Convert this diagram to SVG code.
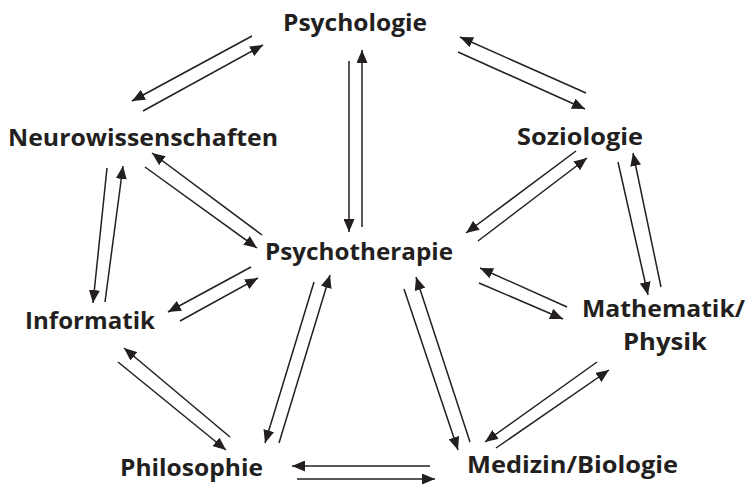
<svg xmlns="http://www.w3.org/2000/svg" width="746" height="484" viewBox="0 0 746 484">
<style>
text{font-family:"Open Sans","Liberation Sans",sans-serif;font-weight:700;font-size:24px;fill:#231f20}
.c line{stroke:#231f20;stroke-width:1.5;marker-end:url(#ah)}
</style>
<defs>
<marker id="ah" markerUnits="userSpaceOnUse" markerWidth="13" markerHeight="11" refX="13" refY="5.5" orient="auto" viewBox="0 0 13 11">
<path d="M0,0 L13,5.5 L0,11 z" fill="#231f20"/>
</marker>
</defs>
<rect width="746" height="484" fill="#fff"/>
<g id="psychologie"><text x="283" y="31" textLength="144" lengthAdjust="spacingAndGlyphs">Psychologie</text></g>
<g id="neurowissenschaften"><text x="8" y="146" textLength="270" lengthAdjust="spacingAndGlyphs">Neurowissenschaften</text></g>
<g id="soziologie"><text x="517" y="145" textLength="126" lengthAdjust="spacingAndGlyphs">Soziologie</text></g>
<g id="psychotherapie"><text x="265" y="260" textLength="188" lengthAdjust="spacingAndGlyphs">Psychotherapie</text></g>
<g id="informatik"><text x="25" y="329" textLength="130" lengthAdjust="spacingAndGlyphs">Informatik</text></g>
<g id="mathematik"><text x="582" y="317" textLength="163" lengthAdjust="spacingAndGlyphs">Mathematik/</text><text x="623" y="350" textLength="84" lengthAdjust="spacingAndGlyphs">Physik</text></g>
<g id="philosophie"><text x="120" y="476" textLength="143" lengthAdjust="spacingAndGlyphs">Philosophie</text></g>
<g id="medizin"><text x="467" y="473" textLength="211" lengthAdjust="spacingAndGlyphs">Medizin/Biologie</text></g>
<g class="c" id="connectors">
<line x1="252" y1="36" x2="132" y2="101"/>
<line x1="143" y1="111" x2="263" y2="45"/>
<line x1="349" y1="61" x2="349" y2="232"/>
<line x1="362" y1="227" x2="362" y2="50"/>
<line x1="586" y1="93" x2="460" y2="37"/>
<line x1="458" y1="52" x2="585" y2="109"/>
<line x1="576" y1="151" x2="466" y2="233"/>
<line x1="478" y1="241" x2="587" y2="158"/>
<line x1="618" y1="162" x2="648" y2="295"/>
<line x1="661" y1="287" x2="633" y2="153"/>
<line x1="145" y1="167" x2="257" y2="248"/>
<line x1="262" y1="235" x2="152" y2="153"/>
<line x1="107" y1="168" x2="93" y2="303"/>
<line x1="105" y1="302" x2="123" y2="166"/>
<line x1="251" y1="267" x2="168" y2="312"/>
<line x1="180" y1="321" x2="258" y2="278"/>
<line x1="314" y1="282" x2="265" y2="443"/>
<line x1="279" y1="443" x2="330" y2="275"/>
<line x1="404" y1="289" x2="458" y2="450"/>
<line x1="470" y1="442" x2="416" y2="277"/>
<line x1="430" y1="466" x2="292" y2="466"/>
<line x1="297" y1="479" x2="435" y2="479"/>
<line x1="567" y1="307" x2="480" y2="268"/>
<line x1="479" y1="283" x2="563" y2="319"/>
<line x1="597" y1="362" x2="485" y2="442"/>
<line x1="496" y1="448" x2="609" y2="370"/>
<line x1="230" y1="437" x2="124" y2="348"/>
<line x1="118" y1="362" x2="226" y2="450"/>
</g>
</svg>
